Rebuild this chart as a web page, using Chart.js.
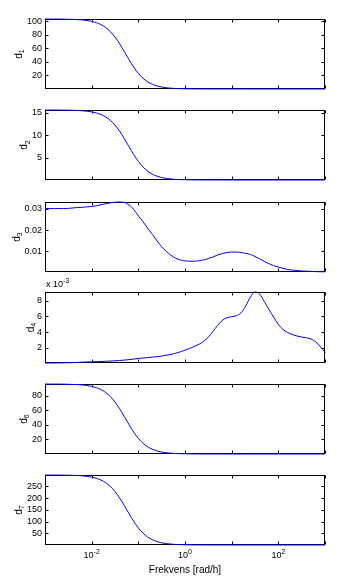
<!DOCTYPE html>
<html>
<head>
<meta charset="utf-8">
<script src="https://cdn.jsdelivr.net/npm/chart.js@4.4.0/dist/chart.umd.min.js"></script>
<style>
  html, body { margin: 0; padding: 0; background: #fff; }
  body { width: 341px; height: 581px; position: relative; overflow: hidden; }
  canvas { position: absolute; left: 0; }
</style>
</head>
<body>
<script>
// Frequency grid [rad/h], 10 points per decade from 1e-3 to 1e3
const freq = [
  0.001, 0.00126, 0.00158, 0.002, 0.00251, 0.00316, 0.00398, 0.00501, 0.00631, 0.00794,
  0.01, 0.0126, 0.0158, 0.02, 0.0251, 0.0316, 0.0398, 0.0501, 0.0631, 0.0794,
  0.1, 0.126, 0.158, 0.2, 0.251, 0.316, 0.398, 0.501, 0.631, 0.794,
  1, 1.26, 1.58, 2, 2.51, 3.16, 3.98, 5.01, 6.31, 7.94,
  10, 12.6, 15.8, 20, 25.1, 31.6, 39.8, 50.1, 63.1, 79.4,
  100, 126, 158, 200, 251, 316, 398, 501, 631, 794,
  1000
];

const d1 = [
  103.0, 102.9, 102.9, 102.9, 102.8, 102.6, 102.4, 102.1, 101.6, 100.8,
  99.5, 97.6, 94.8, 90.5, 84.5, 76.5, 66.5, 55.0, 43.3, 32.3,
  23.0, 15.8, 10.6, 7.0, 4.5, 2.9, 1.84, 1.17, 0.74, 0.47,
  0.30, 0.19, 0.12, 0.075, 0.047, 0.03, 0.019, 0.012, 0.008, 0.005,
  0.003, 0.002, 0.001, 0, 0, 0, 0, 0, 0, 0,
  0, 0, 0, 0, 0, 0, 0, 0, 0, 0,
  0
];

const d2 = [
  15.60, 15.60, 15.59, 15.58, 15.57, 15.56, 15.53, 15.49, 15.43, 15.33,
  15.18, 14.95, 14.59, 14.05, 13.29, 12.24, 10.86, 9.23, 7.43, 5.69,
  4.16, 2.90, 1.97, 1.30, 0.85, 0.55, 0.35, 0.22, 0.14, 0.09,
  0.057, 0.036, 0.023, 0.014, 0.009, 0.006, 0.004, 0.002, 0.001, 0.001,
  0.001, 0, 0, 0, 0, 0, 0, 0, 0, 0,
  0, 0, 0, 0, 0, 0, 0, 0, 0, 0,
  0
];

const d3 = [
  0.0302, 0.0302, 0.0302, 0.0302, 0.0302, 0.0303, 0.0305, 0.0307, 0.0308, 0.0310,
  0.0312, 0.0315, 0.0320, 0.0325, 0.0329, 0.0332, 0.0333, 0.0331, 0.0320, 0.0298,
  0.0268, 0.0240, 0.0210, 0.0180, 0.0150, 0.0122, 0.0100, 0.0082, 0.0068, 0.0060,
  0.0055, 0.0054, 0.0054, 0.0056, 0.0060, 0.0066, 0.0074, 0.0083, 0.0090, 0.0095,
  0.0097, 0.0097, 0.0095, 0.0091, 0.0086, 0.0076, 0.0065, 0.0053, 0.0042, 0.0033,
  0.0026, 0.0020, 0.0015, 0.0012, 0.0010, 0.0008, 0.0007, 0.0006, 0.0005, 0.0004,
  0.0004
];

// d4 in units of 1e-3
const d4 = [
  0.05, 0.05, 0.05, 0.06, 0.07, 0.08, 0.10, 0.12, 0.16, 0.18,
  0.20, 0.22, 0.24, 0.27, 0.30, 0.33, 0.37, 0.42, 0.48, 0.55,
  0.62, 0.68, 0.74, 0.80, 0.86, 0.94, 1.04, 1.15, 1.30, 1.48,
  1.69, 1.92, 2.16, 2.45, 2.82, 3.35, 4.10, 4.85, 5.50, 5.85,
  5.97, 6.10, 6.45, 7.35, 8.45, 9.13, 8.85, 7.90, 6.90, 5.90,
  5.00, 4.35, 3.95, 3.68, 3.50, 3.37, 3.27, 3.12, 2.75, 2.15,
  1.40
];

const d6 = [
  96.0, 95.9, 95.9, 95.9, 95.8, 95.6, 95.4, 95.2, 94.7, 93.9,
  92.7, 91.0, 88.4, 84.3, 78.8, 71.3, 62.0, 51.3, 40.4, 30.1,
  21.4, 14.7, 9.9, 6.5, 4.2, 2.7, 1.7, 1.1, 0.69, 0.44,
  0.28, 0.18, 0.11, 0.07, 0.04, 0.03, 0.02, 0.01, 0.01, 0,
  0, 0, 0, 0, 0, 0, 0, 0, 0, 0,
  0, 0, 0, 0, 0, 0, 0, 0, 0, 0,
  0
];

const d7 = [
  298.9, 298.9, 298.8, 298.6, 298.4, 298.1, 297.5, 296.7, 295.4, 293.3,
  290.0, 285.0, 277.5, 266.2, 250.2, 228.4, 200.7, 168.4, 134.1, 101.4,
  73.1, 50.7, 34.1, 22.5, 14.6, 9.4, 6.0, 3.8, 2.4, 1.5,
  0.97, 0.61, 0.38, 0.24, 0.15, 0.10, 0.06, 0.04, 0.02, 0.015,
  0.01, 0, 0, 0, 0, 0, 0, 0, 0, 0,
  0, 0, 0, 0, 0, 0, 0, 0, 0, 0,
  0
];

// Axis ticks
const xTicks = [0.001, 0.01, 0.1, 1, 10, 100, 1000];
const xTickLabels = [[0.01, '-2'], [1, '0'], [100, '2']];
const yTicks1 = [20, 40, 60, 80, 100];
const yTicks2 = [5, 10, 15];
const yTicks3 = [0.01, 0.02, 0.03];
const yTicks4 = [2, 4, 6, 8];
const yTicks6 = [20, 40, 60, 80];
const yTicks7 = [50, 100, 150, 200, 250];

const FONT = '"Liberation Sans", Arial, Helvetica, sans-serif';
const TICK = 3;
const PAD_TOP = 16;
const PAD_RIGHT = 16;

const panels = [
  { sub: '1', data: d1, yMin: 0,      yMax: 103,    yTicks: yTicks1, top: 19,  h: 70, labelX: 18 },
  { sub: '2', data: d2, yMin: 0,      yMax: 15.6,   yTicks: yTicks2, top: 110, h: 70, labelX: 23.5 },
  { sub: '3', data: d3, yMin: 0.0003, yMax: 0.0333, yTicks: yTicks3, top: 202, h: 70, labelX: 16 },
  { sub: '4', data: d4, yMin: 0.05,   yMax: 9.13,   yTicks: yTicks4, top: 292, h: 71, labelX: 30, exp: '-3' },
  { sub: '6', data: d6, yMin: 0,      yMax: 96,     yTicks: yTicks6, top: 384, h: 70, labelX: 23 },
  { sub: '7', data: d7, yMin: 0,      yMax: 299,    yTicks: yTicks7, top: 475, h: 70, labelX: 18, last: true },
];

//  Box, inward ticks and the hand-set labels
const framePlugin = {
  id: 'frame',
  beforeDatasetsDraw(chart, args, opts) {
    const { ctx, chartArea: a, scales: { x, y } } = chart;
    const l = a.left + 0.5, r = a.right - 0.5, t = a.top + 0.5, b = a.bottom - 0.5;
    ctx.save();
    ctx.strokeStyle = '#000';
    ctx.lineWidth = 1;
    ctx.strokeRect(l, t, r - l, b - t);
    ctx.beginPath();
    xTicks.forEach(v => {
      const px = Math.round(x.getPixelForValue(v)) + 0.5;
      ctx.moveTo(px, b); ctx.lineTo(px, b - TICK);
      ctx.moveTo(px, t); ctx.lineTo(px, t + TICK);
    });
    opts.yTicks.forEach(v => {
      const py = Math.round(y.getPixelForValue(v)) + 0.5;
      ctx.moveTo(l, py); ctx.lineTo(l + TICK, py);
      ctx.moveTo(r, py); ctx.lineTo(r - TICK, py);
    });
    ctx.stroke();
    ctx.restore();
  },
  afterDraw(chart, args, opts) {
    const { ctx, chartArea: a, scales: { x } } = chart;
    ctx.save();
    ctx.fillStyle = '#000';
    ctx.textBaseline = 'alphabetic';

    // y label: d with subscript, rotated
    ctx.translate(opts.labelX, (a.top + a.bottom) / 2);
    ctx.rotate(-Math.PI / 2);
    ctx.font = '10px ' + FONT;
    const wd = ctx.measureText('d').width;
    ctx.font = '7px ' + FONT;
    const ws = ctx.measureText(opts.sub).width;
    const start = -(wd + ws) / 2;
    ctx.font = '10px ' + FONT;
    ctx.textAlign = 'left';
    ctx.fillText('d', start, 3.6);
    ctx.font = '7px ' + FONT;
    ctx.fillText(opts.sub, start + wd, 6);
    ctx.setTransform(1, 0, 0, 1, 0, 0);

    // exponent note above the axes
    if (opts.exp) {
      ctx.textAlign = 'left';
      ctx.font = '9px ' + FONT;
      const base = 'x 10';
      ctx.fillText(base, a.left + 1, a.top - 5);
      const wb = ctx.measureText(base).width;
      ctx.font = '7px ' + FONT;
      ctx.fillText(opts.exp, a.left + 1 + wb, a.top - 9);
    }

    // decade labels and x axis title on the bottom axes
    if (opts.last) {
      xTickLabels.forEach(([v, e]) => {
        const px = x.getPixelForValue(v);
        ctx.font = '9px ' + FONT;
        const w10 = ctx.measureText('10').width;
        ctx.font = '7px ' + FONT;
        const we = ctx.measureText(e).width;
        const x0 = px - (w10 + we) / 2;
        ctx.textAlign = 'left';
        ctx.font = '9px ' + FONT;
        ctx.fillText('10', x0, a.bottom + 12.5);
        ctx.font = '7px ' + FONT;
        ctx.fillText(e, x0 + w10, a.bottom + 8.5);
      });
      ctx.font = '10px ' + FONT;
      ctx.textAlign = 'center';
      ctx.fillText('Frekvens [rad/h]', (a.left + a.right) / 2, a.bottom + 28);
    }
    ctx.restore();
  }
};

panels.forEach(p => {
  const canvas = document.createElement('canvas');
  const padBottom = p.last ? 581 - (p.top - PAD_TOP) - PAD_TOP - p.h : 14;
  const height = PAD_TOP + p.h + padBottom;
  canvas.width = 341;
  canvas.height = height;
  canvas.style.top = (p.top - PAD_TOP) + 'px';
  document.body.appendChild(canvas);

  new Chart(canvas, {
    type: 'line',
    data: {
      datasets: [{
        data: freq.map((f, i) => ({ x: f, y: p.data[i] })),
        borderColor: '#0000ff',
        borderWidth: 1,
        pointRadius: 0,
        fill: false,
        cubicInterpolationMode: 'monotone',
        clip: 2,
      }]
    },
    options: {
      responsive: false,
      animation: false,
      devicePixelRatio: 1,
      layout: { padding: { top: PAD_TOP, right: PAD_RIGHT, bottom: padBottom, left: 0 } },
      scales: {
        x: {
          type: 'logarithmic',
          display: false,
          min: 0.001,
          max: 1000,
        },
        y: {
          type: 'linear',
          min: p.yMin,
          max: p.yMax,
          grid: { display: false, drawTicks: false },
          border: { display: false },
          afterBuildTicks: scale => { scale.ticks = p.yTicks.map(v => ({ value: v })); },
          afterFit: scale => { scale.width = 45; },
          ticks: {
            padding: 3,
            color: '#000',
            font: { family: FONT, size: 9 },
            callback: v => String(v),
          }
        }
      },
      plugins: {
        legend: { display: false },
        tooltip: { enabled: false },
        frame: {
          yTicks: p.yTicks,
          sub: p.sub,
          labelX: p.labelX,
          exp: p.exp,
          last: !!p.last,
        }
      }
    },
    plugins: [framePlugin]
  });
});
</script>
</body>
</html>
